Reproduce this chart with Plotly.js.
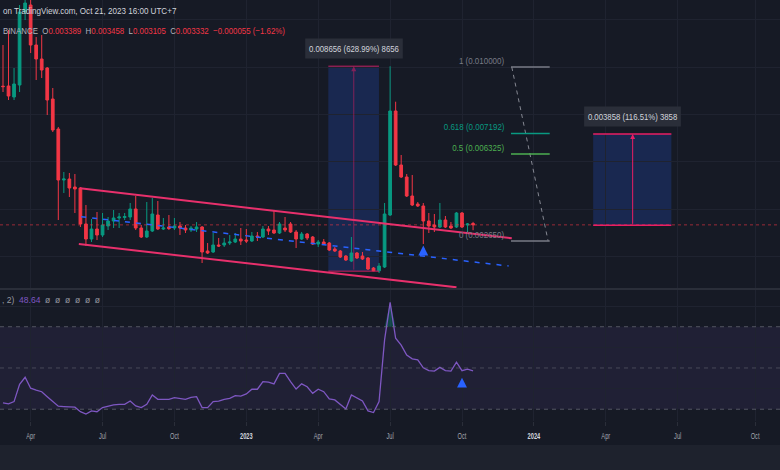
<!DOCTYPE html>
<html><head><meta charset="utf-8">
<script src="https://cdn.plot.ly/plotly-3.0.1.min.js"></script>
<style>html,body{margin:0;padding:0;background:#161a25;overflow:hidden}#chart{width:780px;height:470px}</style>
</head><body><div id="chart"></div>
<script>
const dates = ['2022-02-28','2022-03-07','2022-03-14','2022-03-21','2022-03-28','2022-04-04','2022-04-11','2022-04-18','2022-04-25','2022-05-02',
'2022-05-09','2022-05-16','2022-05-23','2022-05-30','2022-06-06','2022-06-13','2022-06-20','2022-06-27','2022-07-04','2022-07-11',
'2022-07-18','2022-07-25','2022-08-01','2022-08-08','2022-08-15','2022-08-22','2022-08-29','2022-09-05','2022-09-12','2022-09-19',
'2022-09-26','2022-10-03','2022-10-10','2022-10-17','2022-10-24','2022-10-31','2022-11-07','2022-11-14','2022-11-21','2022-11-28',
'2022-12-05','2022-12-12','2022-12-19','2022-12-26','2023-01-02','2023-01-09','2023-01-16','2023-01-23','2023-01-30','2023-02-06',
'2023-02-13','2023-02-20','2023-02-27','2023-03-06','2023-03-13','2023-03-20','2023-03-27','2023-04-03','2023-04-10','2023-04-17',
'2023-04-24','2023-05-01','2023-05-08','2023-05-15','2023-05-22','2023-05-29','2023-06-05','2023-06-12','2023-06-19','2023-06-26',
'2023-07-03','2023-07-10','2023-07-17','2023-07-24','2023-07-31','2023-08-07','2023-08-14','2023-08-21','2023-08-28','2023-09-04',
'2023-09-11','2023-09-18','2023-09-25','2023-10-02','2023-10-09','2023-10-16'];

const open = [0.009190,0.009197,0.008733,0.009240,0.012323,0.012619,0.010929,0.010338,0.009958,0.008648,
0.007381,0.005227,0.005269,0.004931,0.004889,0.003368,0.002734,0.003157,0.002903,0.003284,
0.003495,0.003622,0.003643,0.003664,0.004002,0.003199,0.002819,0.003072,0.003748,0.003157,
0.003241,0.003199,0.003284,0.003199,0.003115,0.003157,0.003241,0.002227,0.002185,0.002481,
0.002481,0.002565,0.002608,0.002734,0.002692,0.002650,0.002861,0.002819,0.003157,0.003115,
0.002988,0.003199,0.003368,0.003030,0.002734,0.002946,0.002819,0.002523,0.002608,0.002565,
0.002312,0.002227,0.002016,0.001805,0.002143,0.002016,0.001932,0.001509,0.001390,0.001551,
0.003748,0.008141,0.005860,0.005354,0.004551,0.004213,0.004129,0.003495,0.003326,0.003241,
0.003537,0.003284,0.003241,0.003833,0.003326,0.003389];

const high = [0.010929,0.011563,0.009958,0.012619,0.013464,0.012830,0.011267,0.011352,0.010000,0.009113,
0.007466,0.005565,0.005523,0.005480,0.004931,0.004171,0.003579,0.003875,0.003833,0.003664,
0.003960,0.003833,0.003833,0.004255,0.004551,0.003326,0.004297,0.004467,0.004340,0.003622,
0.003748,0.003622,0.003453,0.003326,0.003284,0.003453,0.003284,0.002565,0.002988,0.002777,
0.002777,0.002903,0.002988,0.003199,0.003157,0.003030,0.003030,0.003284,0.003284,0.003917,
0.003453,0.003664,0.003453,0.003115,0.003030,0.002988,0.002861,0.002692,0.002734,0.002608,
0.002396,0.002270,0.002058,0.002819,0.002185,0.002185,0.001974,0.001551,0.001720,0.004255,
0.010032,0.008534,0.006283,0.005480,0.005438,0.004297,0.004255,0.003833,0.003791,0.004255,
0.003706,0.003453,0.003875,0.003875,0.003410,0.003458];

const low = [0.008944,0.008606,0.008606,0.008944,0.011985,0.010591,0.009451,0.009535,0.007973,0.007254,
0.003537,0.004678,0.004509,0.003833,0.003241,0.002439,0.002608,0.002692,0.002819,0.003115,
0.003199,0.003199,0.003537,0.003537,0.003115,0.002777,0.002777,0.003030,0.003115,0.003115,
0.003115,0.003115,0.002903,0.002988,0.003030,0.003030,0.001720,0.002101,0.002143,0.002396,
0.002396,0.002481,0.002565,0.002481,0.002565,0.002608,0.002650,0.002777,0.002903,0.002946,
0.002946,0.003030,0.002988,0.002354,0.002692,0.002692,0.002481,0.002396,0.002481,0.002227,
0.002185,0.001932,0.001805,0.001763,0.001889,0.001847,0.001425,0.001376,0.001298,0.001509,
0.003706,0.005818,0.005312,0.004509,0.004129,0.004086,0.002523,0.002988,0.003030,0.003199,
0.003199,0.003157,0.003199,0.003199,0.002988,0.003105];

const close = [0.009170,0.008775,0.009282,0.012323,0.012703,0.010929,0.010338,0.009873,0.008606,0.007339,
0.005227,0.005269,0.004889,0.004847,0.003368,0.002734,0.003157,0.002903,0.003326,0.003495,
0.003622,0.003664,0.003685,0.004002,0.003199,0.002819,0.003072,0.003791,0.003157,0.003199,
0.003178,0.003284,0.003199,0.003115,0.003199,0.003241,0.002185,0.002143,0.002481,0.002439,
0.002565,0.002608,0.002734,0.002650,0.002650,0.002861,0.002819,0.003157,0.003072,0.002988,
0.003368,0.003115,0.003030,0.002734,0.002946,0.002777,0.002523,0.002608,0.002523,0.002270,
0.002227,0.001974,0.001847,0.002143,0.001932,0.001889,0.001467,0.001390,0.001594,0.003791,
0.008141,0.005860,0.005354,0.004551,0.004171,0.004129,0.003495,0.003284,0.003241,0.003537,
0.003241,0.003199,0.003833,0.003241,0.003368,0.003332];

const rsi = [33.1,32.6,33.7,42.1,45.5,40.2,39.3,38.5,36.1,34.0,
31.5,31.3,31.0,31.0,28.8,27.7,29.2,28.8,30.8,31.5,
32.1,32.4,32.4,34.0,31.6,30.8,32.4,36.9,34.8,34.8,
34.8,35.6,35.3,34.8,35.8,36.1,30.8,30.8,33.7,33.9,
34.8,35.3,36.6,36.4,37.4,39.7,39.7,43.4,43.1,42.3,
47.4,47.4,43.4,39.8,42.3,40.9,37.7,39.7,38.5,35.0,
34.5,32.1,30.1,36.9,35.3,34.0,29.2,28.4,33.7,63.6,
81.8,64.4,61.1,56.3,54.4,53.9,50.1,48.7,48.5,50.3,
48.7,48.5,52.8,48.7,49.4,48.64];

const tickDates = ['2022-04-04','2022-07-04','2022-10-03','2023-01-02','2023-04-03','2023-07-03','2023-10-02','2024-01-01','2024-04-01','2024-07-01','2024-10-07'];
const tickLabels = ['Apr','Jul','Oct',"<b><span style='color:#d1d4dc'>2023</span></b>",'Apr','Jul','Oct',"<b><span style='color:#d1d4dc'>2024</span></b>",'Apr','Jul','Oct'];

const fibLabels = ['1 (0.010000)','0.618 (0.007192)','0.5 (0.006325)','0 (0.002650)'];
const fibPrices = [0.010000, 0.007192, 0.006325, 0.002650];
const fibStart = '2023-12-03', fibEnd = '2024-01-21';

const channelUpper = {x: ['2022-06-05 12:00','2023-12-04'], y: [0.004876, 0.002764]};
const channelLower = {x: ['2022-06-04','2023-09-25'], y: [0.002523, 0.000694]};
const channelMid = {x: ['2022-06-07','2023-11-30'], y: [0.003676, 0.001594]};

const measure1 = {x0:'2023-04-15 19:00', x1:'2023-06-18 22:00', xc:'2023-05-18', lowP:0.001376, highP:0.010032, label:'0.008656 (628.99%) 8656'};
const measure2 = {x0:'2024-03-16', x1:'2024-06-23', xc:'2024-05-05', lowP:0.003311, highP:0.007169, label:'0.003858 (116.51%) 3858'};

const lastClose = close[close.length-1];
const arrowPrice = {x:'2023-08-14', y:0.00246};
const arrowRsi = {x:'2023-10-02', y:45.3};

const FONT = 'Liberation Sans, Arial, sans-serif';
const PH = 421;
const py = Y => (PH - Y) / PH;

const traces = [
  {type:'candlestick', x:dates, open:open, high:high, low:low, close:close, xaxis:'x', yaxis:'y',
   increasing:{line:{color:'#089981', width:1}, fillcolor:'#089981'},
   decreasing:{line:{color:'#f23645', width:1}, fillcolor:'#f23645'},
   whiskerwidth:0, hoverinfo:'skip', showlegend:false},
  {type:'scatter', mode:'lines', x:dates, y:dates.map(()=>70), xaxis:'x', yaxis:'y2', line:{width:0}, hoverinfo:'skip', showlegend:false},
  {type:'scatter', mode:'lines', x:dates, y:rsi.map(v=>Math.max(v,70)), xaxis:'x', yaxis:'y2', line:{width:0}, fill:'tonexty', fillcolor:'rgba(8,153,129,0.35)', hoverinfo:'skip', showlegend:false},
  {type:'scatter', mode:'lines', x:dates, y:rsi, xaxis:'x', yaxis:'y2', line:{color:'#7e57c2', width:1.3}, hoverinfo:'skip', showlegend:false}
];

const shapes = [
  {type:'rect', xref:'paper', x0:0, x1:1, yref:'y2', y0:30, y1:70, fillcolor:'rgba(126,87,194,0.1)', line:{width:0}, layer:'below'},
  {type:'line', xref:'paper', x0:0, x1:1, yref:'y2', y0:70, y1:70, line:{color:'rgba(120,123,134,0.6)', width:1, dash:'4px,4px'}},
  {type:'line', xref:'paper', x0:0, x1:1, yref:'y2', y0:50, y1:50, line:{color:'rgba(120,123,134,0.45)', width:1, dash:'4px,4px'}},
  {type:'line', xref:'paper', x0:0, x1:1, yref:'y2', y0:30, y1:30, line:{color:'rgba(120,123,134,0.6)', width:1, dash:'4px,4px'}},
  {type:'line', xref:'paper', x0:0, x1:1, yref:'paper', y0:py(289), y1:py(289), line:{color:'#2a2e39', width:2}},
  {type:'rect', xref:'paper', x0:0, x1:1, yref:'paper', y0:py(470), y1:py(445), fillcolor:'#1e222d', line:{width:0}},
  {type:'line', xref:'paper', x0:0, x1:1, yref:'y', y0:lastClose, y1:lastClose, line:{color:'rgba(242,54,69,0.6)', width:1, dash:'dot'}},
  {type:'line', xref:'x', yref:'y', x0:channelUpper.x[0], x1:channelUpper.x[1], y0:channelUpper.y[0], y1:channelUpper.y[1], line:{color:'#e8306c', width:2}},
  {type:'line', xref:'x', yref:'y', x0:channelLower.x[0], x1:channelLower.x[1], y0:channelLower.y[0], y1:channelLower.y[1], line:{color:'#e8306c', width:2}},
  {type:'line', xref:'x', yref:'y', x0:channelMid.x[0], x1:channelMid.x[1], y0:channelMid.y[0], y1:channelMid.y[1], line:{color:'#2962ff', width:1.5, dash:'5px,6px'}},
  {type:'rect', xref:'x', yref:'y', x0:measure1.x0, x1:measure1.x1, y0:measure1.lowP, y1:measure1.highP, fillcolor:'rgba(41,98,255,0.2)', line:{width:0}, layer:'below'},
  {type:'line', xref:'x', yref:'y', x0:measure1.x0, x1:measure1.x1, y0:measure1.highP, y1:measure1.highP, line:{color:'rgba(233,30,99,0.55)', width:1.5}},
  {type:'line', xref:'x', yref:'y', x0:measure1.x0, x1:measure1.x1, y0:measure1.lowP, y1:measure1.lowP, line:{color:'rgba(233,30,99,0.55)', width:1.5}},
  {type:'rect', xref:'x', yref:'y', x0:measure2.x0, x1:measure2.x1, y0:measure2.lowP, y1:measure2.highP, fillcolor:'rgba(41,98,255,0.2)', line:{width:0}, layer:'below'},
  {type:'line', xref:'x', yref:'y', x0:measure2.x0, x1:measure2.x1, y0:measure2.highP, y1:measure2.highP, line:{color:'#e91e63', width:1.5}},
  {type:'line', xref:'x', yref:'y', x0:measure2.x0, x1:measure2.x1, y0:measure2.lowP, y1:measure2.lowP, line:{color:'#e91e63', width:1.5}},
  {type:'line', xref:'x', yref:'y', x0:'2023-12-04', x1:'2024-01-19', y0:fibPrices[0], y1:fibPrices[3], line:{color:'rgba(160,163,172,0.8)', width:1, dash:'4px,4px'}}
];
const fibColors = ['#787b86','#089981','#4caf50','#787b86'];
fibPrices.forEach((p,i)=>{
  shapes.push({type:'line', xref:'x', yref:'y', x0:fibStart, x1:fibEnd, y0:p, y1:p, line:{color:fibColors[i], width:1.5}});
});

const annotations = [];
const annScale = [];
function addAnn(a, s){ annotations.push(a); annScale.push(s); }

addAnn({xref:'paper', yref:'paper', x:1/780, y:py(11), xanchor:'left', yanchor:'middle', showarrow:false,
   text:'on TradingView.com, Oct 21, 2023 16:00 UTC+7', font:{family:FONT, size:9.5, color:'#d1d4dc'}}, 0.85);
addAnn({xref:'paper', yref:'paper', x:1/780, y:py(30), xanchor:'left', yanchor:'middle', showarrow:false,
   text:"BINANCE&nbsp;&nbsp;O<span style='color:#f23645'>0.003389</span>&nbsp;&nbsp;H<span style='color:#f23645'>0.003458</span>&nbsp;&nbsp;L<span style='color:#f23645'>0.003105</span>&nbsp;&nbsp;C<span style='color:#f23645'>0.003332</span>&nbsp;&nbsp;<span style='color:#f23645'>−0.000055 (−1.62%)</span>",
   font:{family:FONT, size:9.5, color:'#b2b5be'}}, 0.83);
addAnn({xref:'paper', yref:'paper', x:0, y:py(300), xanchor:'left', yanchor:'middle', showarrow:false,
   text:",&nbsp;2)&nbsp;&nbsp;<span style='color:#7e57c2'>48.64</span>&nbsp;&nbsp;ø&nbsp;&nbsp;ø&nbsp;&nbsp;ø&nbsp;&nbsp;ø&nbsp;&nbsp;ø&nbsp;&nbsp;ø",
   font:{family:FONT, size:9.5, color:'#9598a1'}}, 0.9);
addAnn({xref:'x', yref:'y', x:measure1.xc, y:measure1.highP, yanchor:'bottom', yshift:7, showarrow:false, text:measure1.label,
   bgcolor:'#2a2e39', borderpad:4, font:{family:FONT, size:9.5, color:'#d1d4dc'}}, 0.82);
addAnn({xref:'x', yref:'y', x:measure2.xc, y:measure2.highP, yanchor:'bottom', yshift:7, showarrow:false, text:measure2.label,
   bgcolor:'#2a2e39', borderpad:4, font:{family:FONT, size:9.5, color:'#d1d4dc'}}, 0.82);
addAnn({xref:'x', yref:'y', x:measure1.xc, y:measure1.highP, axref:'x', ayref:'y', ax:measure1.xc, ay:measure1.lowP, text:'', showarrow:true,
   arrowhead:2, arrowsize:1, arrowwidth:1, arrowcolor:'rgba(233,30,99,0.5)'}, 1);
addAnn({xref:'x', yref:'y', x:measure2.xc, y:measure2.highP, axref:'x', ayref:'y', ax:measure2.xc, ay:measure2.lowP, text:'', showarrow:true,
   arrowhead:2, arrowsize:1, arrowwidth:1, arrowcolor:'#e91e63'}, 1);
addAnn({xref:'x', yref:'y', x:arrowPrice.x, y:arrowPrice.y, ax:0, ay:9, text:'', showarrow:true, arrowhead:2, arrowsize:0.9, arrowwidth:2.2, arrowcolor:'#2962ff'}, 1);
addAnn({xref:'x', yref:'y2', x:arrowRsi.x, y:arrowRsi.y, ax:0, ay:9, text:'', showarrow:true, arrowhead:2, arrowsize:0.9, arrowwidth:2.2, arrowcolor:'#2962ff'}, 1);
fibPrices.forEach((p,i)=>{
  addAnn({xref:'x', yref:'y', x:fibStart, y:p, xanchor:'right', yanchor:'bottom', xshift:-5, yshift:-1, showarrow:false,
    text:fibLabels[i], font:{family:FONT, size:9.5, color:fibColors[i]}}, 0.84);
});

const layout = {
  width:780, height:470, margin:{l:0, r:0, t:0, b:49},
  paper_bgcolor:'#161a25', plot_bgcolor:'#161a25', showlegend:false,
  xaxis:{type:'date', range:['2022-02-24 05:00','2024-11-07 12:00'], anchor:'y2',
    tickmode:'array', tickvals:tickDates, ticktext:tickLabels,
    tickfont:{family:FONT, size:9.5, color:'#a3a6af'}, ticks:'outside', ticklen:4, tickcolor:'#2a2e39',
    ticklabelstandoff:2,
    showgrid:true, gridcolor:'#1f2330', zeroline:false, showline:false, rangeslider:{visible:false}, fixedrange:true},
  yaxis:{domain:[py(288),1], range:[0.000665,0.01283], showticklabels:false, tick0:0, dtick:0.002,
    gridcolor:'#1f2330', zeroline:false, fixedrange:true},
  yaxis2:{domain:[0,py(290)], range:[24.3,87.8], showticklabels:false, tick0:0, dtick:20,
    gridcolor:'#1f2330', zeroline:false, fixedrange:true},
  shapes:shapes, annotations:annotations
};

Plotly.newPlot('chart', traces, layout, {staticPlot:true, displayModeBar:false}).then(gd => {
  // the reference screenshot is horizontally condensed: narrow the text the same way
  gd.querySelectorAll('g.annotation').forEach(g => {
    const i = +g.getAttribute('data-index');
    const a = annotations[i], s = annScale[i];
    if (!a || !a.text || s === 1) return;
    const tg = g.querySelector('g.annotation-text-g');
    if (!tg) return;
    const bb = tg.getBBox();
    let ax = bb.x + bb.width / 2;
    if (a.xanchor === 'left') ax = bb.x;
    else if (a.xanchor === 'right') ax = bb.x + bb.width;
    const t = tg.getAttribute('transform') || '';
    tg.setAttribute('transform', t + ' translate(' + ax + ',0) scale(' + s + ',1) translate(' + (-ax) + ',0)');
  });
  gd.querySelectorAll('g.xtick text').forEach(t => {
    const tr = t.getAttribute('transform') || '';
    t.setAttribute('transform', tr + ' scale(0.6,1)');
  });
});
</script></body></html>
